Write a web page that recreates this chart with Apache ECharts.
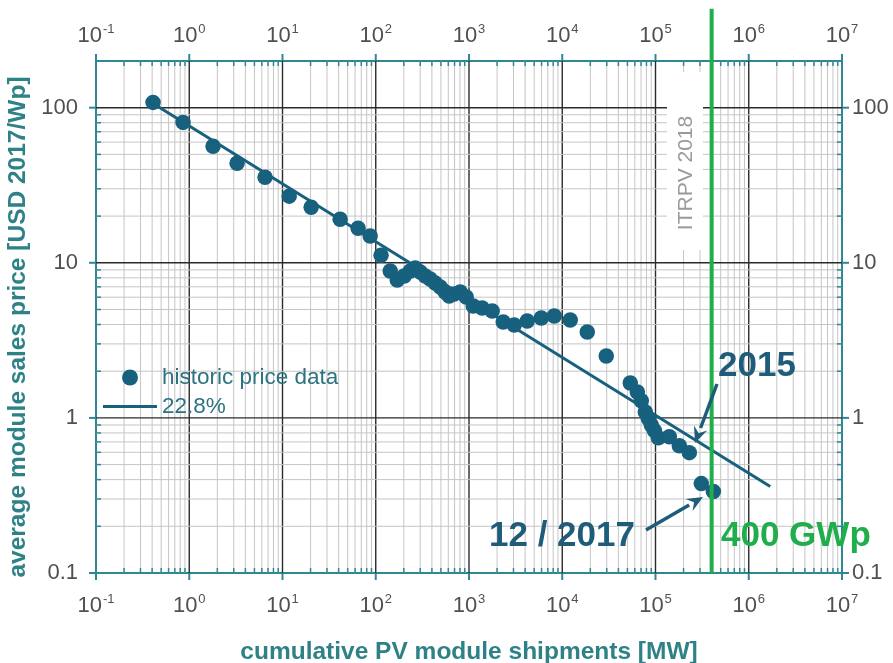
<!DOCTYPE html>
<html>
<head>
<meta charset="utf-8">
<script src="https://cdn.jsdelivr.net/npm/echarts@6/dist/echarts.min.js"></script>
<style>
  html, body { margin: 0; padding: 0; background: #ffffff; }
  #chart { width: 893px; height: 663px; }
</style>
</head>
<body>
<div id="chart"></div>
<script>
// Historic module price experience curve (log-log)
// cumulative PV module shipments [MW]
const shipmentsMW = [
  0.409, 0.858, 1.80, 3.26, 6.50, 11.8, 20.3, 41.5, 64.7, 87.1,
  114, 143, 170, 202, 234, 265, 300, 339, 383, 434,
  491, 555, 613, 694, 805, 933, 1110, 1385, 1774, 2328,
  3055, 4212, 5953, 8210, 12180, 18550, 29660, 53650, 63790, 70410,
  77730, 83650, 90130, 97070, 107150, 140700, 180100, 230500, 309900, 417200
];
// average module sales price [USD 2017/Wp]
const priceUSD = [
  108.2, 80.4, 56.4, 43.8, 35.6, 26.9, 22.8, 19.1, 16.7, 14.9,
  11.2, 8.85, 7.74, 8.21, 8.85, 9.25, 8.71, 8.21, 7.86, 7.40,
  6.98, 6.48, 6.11, 6.29, 6.48, 6.02, 5.27, 5.11, 4.89, 4.15,
  3.97, 4.22, 4.41, 4.54, 4.28, 3.58, 2.51, 1.68, 1.47, 1.29,
  1.09, 0.99, 0.90, 0.83, 0.745, 0.755, 0.662, 0.597, 0.377, 0.335
];
// 22.8 % learning-rate fit, end points
const fitShipments = [0.36, 1.7e6];
const fitPrice = [111.6, 0.361];
// 400 GWp marker
const markShipments = [400000, 400000];
const markPrice = [0.1, 435];

const xRange = [0.1, 1e7];
const yRange = [0.1, 200];
const xTickExponents = [-1, 0, 1, 2, 3, 4, 5, 6, 7];
const yTickLabels = ['0.1', '1', '10', '100'];
const gridMultipliers = [2, 3, 4, 5, 6, 7, 8, 9];

const seriesName = 'historic price data';
const fitName = '22.8%';

const FRAME = '#2f8794';
const DARK = '#17607e';
const FONT = '"Liberation Sans", Arial, sans-serif';
const TITLE = '#2e8287';

// grid line items: [x, y, kind] kind 0 = minor vertical, 1 = major vertical,
// 2 = minor horizontal, 3 = major horizontal
const gridItems = [];
for (let e = xTickExponents[0]; e < xTickExponents[xTickExponents.length - 1]; e++) {
  const base = Math.pow(10, e);
  if (e > xTickExponents[0]) gridItems.push([base, 1, 1]);
  gridMultipliers.forEach(m => gridItems.push([m * base, 1, 0]));
}
yTickLabels.map(Number).forEach((v, i) => {
  if (i > 0) gridItems.push([1, v, 3]);
  gridMultipliers.forEach(m => {
    const val = m * v;
    if (val < yRange[1]) gridItems.push([1, val, 2]);
  });
});
// outward major ticks on all four sides
const majorTickItems = [];
xTickExponents.forEach(e => majorTickItems.push([Math.pow(10, e), 1, 0]));
yTickLabels.forEach(t => majorTickItems.push([1, Number(t), 1]));

function renderGrid(params, api) {
  const cs = params.coordSys;
  const kind = api.value(2);
  const major = kind === 1 || kind === 3;
  const out = [];
  const gridStyle = { stroke: major ? '#2b2b2b' : '#c6c6c6', lineWidth: major ? 1.4 : 1 };
  const tickStyle = { stroke: FRAME, lineWidth: 1.5 };
  const t = 5;
  if (kind < 2) {
    const x = api.coord([api.value(0), 1])[0];
    out.push({ type: 'line', shape: { x1: x, y1: cs.y, x2: x, y2: cs.y + cs.height }, style: gridStyle });
    if (!major) {
      out.push({ type: 'line', shape: { x1: x, y1: cs.y, x2: x, y2: cs.y + t }, style: tickStyle });
      out.push({ type: 'line', shape: { x1: x, y1: cs.y + cs.height - t, x2: x, y2: cs.y + cs.height }, style: tickStyle });
    }
  } else {
    const y = api.coord([1, api.value(1)])[1];
    out.push({ type: 'line', shape: { x1: cs.x, y1: y, x2: cs.x + cs.width, y2: y }, style: gridStyle });
    if (!major) {
      out.push({ type: 'line', shape: { x1: cs.x, y1: y, x2: cs.x + t, y2: y }, style: tickStyle });
      out.push({ type: 'line', shape: { x1: cs.x + cs.width - t, y1: y, x2: cs.x + cs.width, y2: y }, style: tickStyle });
    }
  }
  return { type: 'group', children: out };
}

function renderMajorTicks(params, api) {
  const cs = params.coordSys;
  const style = { stroke: FRAME, lineWidth: 2 };
  const t = 7;
  if (api.value(2) === 0) {
    const x = api.coord([api.value(0), 1])[0];
    return { type: 'group', children: [
      { type: 'line', shape: { x1: x, y1: cs.y - t, x2: x, y2: cs.y }, style },
      { type: 'line', shape: { x1: x, y1: cs.y + cs.height, x2: x, y2: cs.y + cs.height + t }, style }
    ] };
  }
  const y = api.coord([1, api.value(1)])[1];
  return { type: 'group', children: [
    { type: 'line', shape: { x1: cs.x - t, y1: y, x2: cs.x, y2: y }, style },
    { type: 'line', shape: { x1: cs.x + cs.width, y1: y, x2: cs.x + cs.width + t, y2: y }, style }
  ] };
}

function isDecade(v) {
  const l = Math.log10(v);
  return Math.abs(l - Math.round(l)) < 1e-6;
}
function xLabel(v) {
  if (!isDecade(v)) return '';
  return '{b|10}{s|' + Math.round(Math.log10(v)) + '}';
}
function yLabel(v) {
  if (!isDecade(v)) return '';
  const i = yTickLabels.map(Number).findIndex(t => Math.abs(t - v) / t < 1e-6);
  return i >= 0 ? yTickLabels[i] : '';
}

const xLabelRich = {
  b: { fontSize: 22, color: '#505050', fontFamily: FONT },
  s: { fontSize: 13, color: '#505050', fontFamily: FONT, verticalAlign: 'top', padding: [0, 0, 12, 1] }
};

function xAxisCfg(pos, showName) {
  return {
    type: 'log', logBase: 10, position: pos,
    min: xRange[0], max: xRange[1],
    axisLine: { show: true, lineStyle: { color: FRAME, width: 2 } },
    axisTick: { show: false },
    splitLine: { show: false },
    axisLabel: { formatter: xLabel, rich: xLabelRich, margin: pos === 'top' ? 13 : 20,
                 showMinLabel: true, showMaxLabel: true },
    name: showName ? 'cumulative PV module shipments [MW]' : '',
    nameLocation: 'middle', nameGap: 67,
    nameTextStyle: { fontSize: 24.5, fontWeight: 'bold', color: TITLE, fontFamily: FONT }
  };
}
function yAxisCfg(pos, showName) {
  return {
    type: 'log', logBase: 10, position: pos,
    min: yRange[0], max: yRange[1],
    axisLine: { show: true, lineStyle: { color: FRAME, width: 2 } },
    axisTick: { show: false },
    splitLine: { show: false },
    axisLabel: { formatter: yLabel, fontSize: 22, color: '#505050', fontFamily: FONT,
                 margin: pos === 'left' ? 18 : 10, showMinLabel: true, showMaxLabel: true },
    name: showName ? 'average module sales price [USD 2017/Wp]' : '',
    nameLocation: 'middle', nameGap: 56, nameRotate: 90,
    nameTextStyle: { fontSize: 24.5, fontWeight: 'bold', color: TITLE, fontFamily: FONT,
                     padding: [0, 20, 0, 0] }
  };
}

const chart = echarts.init(document.getElementById('chart'), null, { renderer: 'canvas' });

function arrow(x1, y1, x2, y2, color) {
  const ang = Math.atan2(y2 - y1, x2 - x1);
  const L = 16, W = 7;
  const bx = x2 - L * Math.cos(ang), by = y2 - L * Math.sin(ang);
  const px = -Math.sin(ang) * W, py = Math.cos(ang) * W;
  return [
    { type: 'line', z: 30, shape: { x1, y1, x2: bx, y2: by }, style: { stroke: color, lineWidth: 3.5 } },
    { type: 'polygon', z: 30, shape: { points: [[x2, y2], [bx + px, by + py], [bx + 0.35 * L * Math.cos(ang), by + 0.35 * L * Math.sin(ang)], [bx - px, by - py]] },
      style: { fill: color } }
  ];
}

const ANNOT = '#1e5c7a';
const GREEN = '#1fae4b';

chart.setOption({
  animation: false,
  backgroundColor: '#ffffff',
  grid: { left: 96, right: 51, top: 61, bottom: 90, containLabel: false, outerBoundsMode: 'none' },
  xAxis: [xAxisCfg('bottom', true), xAxisCfg('top', false)],
  yAxis: [yAxisCfg('left', true), yAxisCfg('right', false)],
  legend: {
    orient: 'vertical', left: 103, top: 366, padding: 0,
    itemWidth: 54, itemHeight: 16, itemGap: 6,
    data: [
      { name: seriesName, icon: 'circle' },
      { name: fitName, icon: 'path://M0,0 L54,0 L54,3.2 L0,3.2 Z' }
    ],
    textStyle: { fontSize: 22.5, color: '#2b7480', fontFamily: FONT },
    selectedMode: false
  },
  series: [
    { type: 'custom', name: 'grid', z: 1, silent: true, renderItem: renderGrid,
      data: gridItems, encode: { x: 0, y: 1 } },
    { type: 'custom', name: 'ticks', z: 1, silent: true, renderItem: renderMajorTicks,
      data: majorTickItems, encode: { x: 0, y: 1 } },
    { type: 'line', name: fitName, z: 10, showSymbol: false, symbol: 'none',
      lineStyle: { color: DARK, width: 3 }, itemStyle: { color: DARK },
      data: fitShipments.map((x, i) => [x, fitPrice[i]]) },
    { type: 'scatter', name: seriesName, z: 11, symbol: 'circle', symbolSize: 15.5,
      itemStyle: { color: DARK, opacity: 1 },
      data: shipmentsMW.map((x, i) => [x, priceUSD[i]]) },
    { type: 'line', name: '400 GWp', z: 12, clip: false, showSymbol: false, symbol: 'none',
      lineStyle: { color: GREEN, width: 4 },
      data: markShipments.map((x, i) => [x, markPrice[i]]) }
  ],
  graphic: [
    { type: 'rect', z: 5, shape: { x: 667, y: 72, width: 36, height: 178 }, style: { fill: '#ffffff' } },
    { type: 'text', z: 6, x: 686, y: 173, rotation: Math.PI / 2,
      style: { text: 'ITRPV 2018', fontSize: 21, fill: '#9a9a9a', fontFamily: FONT, align: 'center', verticalAlign: 'middle' } },
    { type: 'text', z: 30, x: 718, y: 366,
      style: { text: '2015', fontSize: 35, fontWeight: 'bold', fill: ANNOT, fontFamily: FONT, verticalAlign: 'middle' } },
    { type: 'text', z: 30, x: 489, y: 536,
      style: { text: '12 / 2017', fontSize: 35, fontWeight: 'bold', fill: ANNOT, fontFamily: FONT, verticalAlign: 'middle' } },
    { type: 'text', z: 30, x: 721, y: 536,
      style: { text: '400 GWp', fontSize: 35, fontWeight: 'bold', fill: GREEN, fontFamily: FONT, verticalAlign: 'middle' } },
    ...arrow(717, 384, 695, 443, ANNOT),
    ...arrow(646, 530, 703, 497, ANNOT)
  ]
});
</script>
</body>
</html>
